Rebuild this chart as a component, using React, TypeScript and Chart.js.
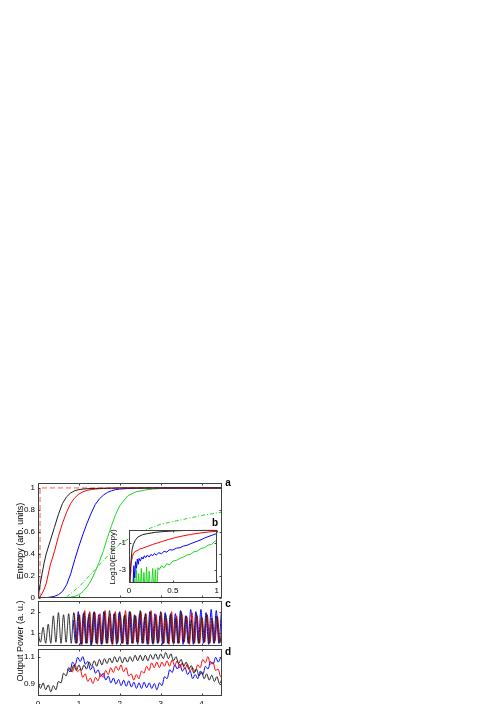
import React, { useEffect, useRef } from "react";
import { Chart, registerables } from "chart.js";
Chart.register(...registerables);

// ---------- Panel a : entropy vs time ----------
const aTime = [0, 0.05, 0.1, 0.15, 0.2, 0.3, 0.4, 0.5, 0.6, 0.7, 0.8, 0.9, 1.0, 1.1, 1.2, 1.3, 1.4, 1.5, 1.6, 1.7, 1.8, 1.9, 2.0, 2.2, 2.4, 2.6, 2.8, 3.0, 3.5, 4.0, 4.5];
const aBlack = [0, 0.12, 0.22, 0.32, 0.4, 0.52, 0.64, 0.76, 0.86, 0.92, 0.955, 0.975, 0.985, 0.99, 0.993, 0.995, 0.996, 0.997, 0.998, 0.998, 0.999, 0.999, 1, 1, 1, 1, 1, 1, 1, 1, 1];
const aRed = [0, 0.01, 0.04, 0.08, 0.13, 0.3, 0.42, 0.56, 0.68, 0.78, 0.86, 0.91, 0.945, 0.965, 0.978, 0.985, 0.99, 0.993, 0.995, 0.996, 0.997, 0.998, 0.999, 1, 1, 1, 1, 1, 1, 1, 1];
const aBlue = [0, 0, 0.001, 0.002, 0.003, 0.008, 0.015, 0.03, 0.06, 0.12, 0.22, 0.35, 0.47, 0.58, 0.68, 0.77, 0.85, 0.9, 0.935, 0.96, 0.975, 0.985, 0.99, 0.995, 0.997, 0.998, 0.999, 1, 1, 1, 1];
const aGreen = [0, 0, 0, 0, 0, 0, 0.001, 0.001, 0.002, 0.003, 0.008, 0.015, 0.03, 0.06, 0.1, 0.16, 0.24, 0.33, 0.43, 0.55, 0.66, 0.76, 0.84, 0.93, 0.965, 0.98, 0.99, 0.995, 0.998, 0.999, 1];
const aDashDotX = [0.7, 0.8, 1.0, 1.2, 1.4, 1.6, 1.8, 2.0, 2.5, 3.0, 3.5, 4.0, 4.5];
const aDashDotY = [0.01, 0.04, 0.1, 0.18, 0.26, 0.34, 0.42, 0.49, 0.6, 0.67, 0.71, 0.75, 0.78];
const aStepX = [0.05, 0.05, 4.5];
const aStepY = [0, 1, 1];
const aYTicks = [0, 0.2, 0.4, 0.6, 0.8, 1];

// ---------- Panel b (inset) : log10 entropy ----------
const bBlackX = [0.005, 0.015, 0.025, 0.035, 0.05, 0.07, 0.1, 0.15, 0.2, 0.3, 0.4, 0.5, 0.6, 0.7, 0.8, 0.9, 1.0];
const bBlackY = [-4.5, -3.2, -2.2, -1.5, -1.1, -0.8, -0.55, -0.38, -0.3, -0.19, -0.13, -0.09, -0.06, -0.045, -0.035, -0.025, -0.02];
const bRedX = [0.01, 0.015, 0.02, 0.03, 0.04, 0.05, 0.065, 0.08, 0.1, 0.12, 0.15, 0.19, 0.23, 0.27, 0.32, 0.38, 0.45, 0.52, 0.6, 0.7, 0.8, 0.9, 1.0];
const bRedY = [-4.5, -3.3, -2.8, -2.3, -2.0, -1.8, -1.65, -1.6, -1.55, -1.45, -1.4, -1.3, -1.2, -1.1, -1.0, -0.87, -0.73, -0.6, -0.48, -0.35, -0.25, -0.17, -0.11];
const bBlueX = [0.045, 0.055, 0.065, 0.075, 0.085, 0.095, 0.105, 0.115, 0.13, 0.145, 0.16, 0.175, 0.19, 0.21, 0.23, 0.25, 0.27, 0.29, 0.31, 0.34, 0.37, 0.4, 0.43, 0.46, 0.5, 0.54, 0.58, 0.62, 0.66, 0.7, 0.74, 0.78, 0.82, 0.86, 0.9, 0.95, 1.0];
const bBlueY = [-4.5, -2.7, -3.6, -2.4, -2.9, -2.2, -2.6, -2.15, -2.35, -2.05, -2.2, -1.95, -2.1, -1.9, -2.05, -1.85, -1.95, -1.78, -1.9, -1.72, -1.8, -1.62, -1.68, -1.5, -1.52, -1.38, -1.35, -1.22, -1.17, -1.05, -0.95, -0.85, -0.75, -0.62, -0.52, -0.4, -0.28];
const bGreenX = [0.04, 0.055, 0.07, 0.084, 0.097, 0.11, 0.125, 0.14, 0.155, 0.17, 0.185, 0.2, 0.215, 0.23, 0.25, 0.27, 0.285, 0.3, 0.315, 0.33, 0.345, 0.37, 0.4, 0.43, 0.46, 0.5, 0.54, 0.58, 0.62, 0.66, 0.7, 0.74, 0.78, 0.82, 0.86, 0.9, 0.94, 0.97, 1.0];
const bGreenY = [-5, -3.1, -5, -3.0, -5, -3.3, -5, -2.9, -5, -3.2, -5, -2.8, -5, -3.1, -5, -2.9, -5, -3.0, -5, -2.85, -3.0, -2.7, -2.85, -2.55, -2.65, -2.35, -2.3, -2.15, -2.05, -1.9, -1.85, -1.65, -1.6, -1.4, -1.35, -1.15, -1.1, -0.9, -0.8];
const bXTicks = [0, 0.5, 1];
const bYTicks = [-3, -1];

// ---------- Panel c : output power (fast oscillation) ----------
const cStep = 0.0625;
const cBlackStart = 0;
const cBlack = [1.0, 0.55, 1.25, 0.5, 1.4, 0.5, 1.8, 0.55, 1.95, 0.5, 1.85, 0.55, 1.9, 0.5, 1.95, 0.5, 1.85, 0.45, 1.95, 0.5, 1.9, 0.45, 2.0, 0.5, 1.7, 0.45, 1.95, 0.5, 2.05, 0.45, 1.9, 0.5, 2.0, 0.5, 1.85, 0.45, 2.0, 0.5, 1.8, 0.45, 2.05, 0.5, 1.9, 0.5, 1.95, 0.45, 1.75, 0.5, 2.0, 0.5, 1.85, 0.5, 1.9, 0.45, 1.7, 0.5, 2.0, 0.55, 1.8, 0.5, 1.6, 0.5, 1.9, 0.5, 1.75, 0.55, 1.85, 0.5, 1.7, 0.5, 1.8, 0.5, 1.1];
const cRedStart = 0.89;
const cRed = [1.9, 0.5, 1.85, 0.45, 2.05, 0.5, 2.0, 0.55, 1.95, 0.45, 1.9, 0.5, 2.05, 0.5, 1.9, 0.45, 2.0, 0.55, 1.85, 0.5, 2.05, 0.45, 1.95, 0.5, 1.8, 0.55, 2.0, 0.5, 1.9, 0.45, 2.05, 0.5, 1.85, 0.55, 1.95, 0.5, 1.7, 0.45, 2.0, 0.5, 1.8, 0.5, 1.9, 0.55, 1.75, 0.45, 1.95, 0.5, 1.8, 0.5, 1.7, 0.55, 1.85, 0.5, 1.6, 0.6, 1.75, 0.55, 1.4];
const cBlueStart = 0.86;
const cBlue = [1.6, 0.5, 2.0, 0.45, 1.9, 0.5, 1.75, 0.4, 1.95, 0.5, 1.85, 0.45, 2.0, 0.5, 1.7, 0.55, 1.9, 0.45, 1.95, 0.5, 1.8, 0.45, 2.0, 0.5, 1.85, 0.55, 1.9, 0.5, 1.75, 0.45, 2.0, 0.5, 1.9, 0.5, 1.8, 0.45, 1.95, 0.5, 1.85, 0.55, 1.9, 0.5, 2.05, 0.45, 1.8, 0.5, 2.1, 0.45, 2.0, 0.5, 2.1, 0.5, 1.95, 0.45, 2.1, 0.5, 2.05, 0.5, 2.0];
const cYTicks = [1, 2];

// ---------- Panel d : output power (slow drift) ----------
const dBlackStart = 0;
const dBlack = [0.92, 0.87, 0.91, 0.86, 0.895, 0.845, 0.89, 0.86, 0.92, 0.91, 0.98, 0.96, 1.02, 0.99, 1.04, 1.0, 1.04, 1.0, 1.04, 1.01, 1.06, 1.03, 1.07, 1.03, 1.08, 1.04, 1.085, 1.05, 1.09, 1.055, 1.1, 1.06, 1.1, 1.055, 1.095, 1.06, 1.1, 1.065, 1.11, 1.07, 1.11, 1.07, 1.11, 1.07, 1.115, 1.08, 1.12, 1.08, 1.12, 1.085, 1.13, 1.085, 1.12, 1.07, 1.1, 1.05, 1.08, 1.03, 1.06, 1.01, 1.035, 0.98, 1.01, 0.96, 0.99, 0.94, 0.975, 0.93, 0.965, 0.92, 0.955, 0.905, 0.94];
const dRedStart = 0.78;
const dRed = [1.02, 0.99, 1.04, 0.99, 1.01, 0.95, 0.975, 0.92, 0.945, 0.905, 0.95, 0.925, 0.975, 0.95, 1.0, 0.97, 1.02, 0.985, 1.03, 1.0, 1.04, 0.99, 1.02, 0.96, 0.975, 0.93, 0.97, 0.94, 0.995, 0.98, 1.03, 1.0, 1.055, 1.02, 1.06, 1.02, 1.06, 1.03, 1.07, 1.03, 1.075, 1.035, 1.07, 1.02, 1.055, 1.01, 1.045, 0.995, 1.02, 0.99, 1.04, 1.02, 1.08, 1.055, 1.1, 1.045, 1.06, 1.0, 1.01, 0.955, 0.99];
const dBlueStart = 0.72;
const dBlue = [1.01, 0.99, 1.06, 1.04, 1.095, 1.065, 1.1, 1.045, 1.065, 1.005, 1.03, 0.98, 1.005, 0.955, 0.98, 0.93, 0.96, 0.91, 0.945, 0.9, 0.935, 0.89, 0.93, 0.885, 0.925, 0.88, 0.915, 0.87, 0.91, 0.87, 0.915, 0.875, 0.91, 0.87, 0.905, 0.86, 0.91, 0.89, 0.955, 0.94, 1.005, 0.985, 1.04, 1.01, 1.045, 0.995, 1.02, 0.97, 0.995, 0.94, 0.97, 0.94, 0.995, 0.97, 1.03, 1.01, 1.065, 1.045, 1.095, 1.06, 1.09, 1.04];
const dYTicks = [0.9, 1.1];

const timeTicks = [0, 1, 2, 3, 4];

// ---------- helpers ----------
type XY = { x: number; y: number };
const pairs = (xs: number[], ys: number[]): XY[] => xs.map((x, i) => ({ x, y: ys[i] }));
const sampled = (x0: number, dx: number, ys: number[]): XY[] => ys.map((y, i) => ({ x: x0 + i * dx, y }));

const FONT = '"Liberation Sans", Arial, Helvetica, sans-serif';
const BLACK = "rgb(30,30,30)";
const RED = "rgb(255,0,0)";
const BLUE = "rgb(0,0,255)";
const GREEN = "rgb(30,215,30)";

function line(data: XY[], color: string, extra: any = {}) {
  return { data, borderColor: color, borderWidth: 1, pointRadius: 0, fill: false, tension: 0, ...extra };
}

function framePlugin(xt: number[], yt: number[], len = 2) {
  return {
    id: "frameTicks",
    afterDatasetsDraw(chart: any) {
      const { ctx, chartArea: a, scales } = chart;
      const L = Math.round(a.left) + 0.5;
      const R = Math.round(a.right) - 0.5;
      const T = Math.round(a.top) + 0.5;
      const B = Math.round(a.bottom) - 0.5;
      ctx.save();
      ctx.strokeStyle = "#404040";
      ctx.lineWidth = 1;
      ctx.strokeRect(L, T, R - L, B - T);
      ctx.beginPath();
      xt.forEach((v) => {
        const x = Math.round(scales.x.getPixelForValue(v)) + 0.5;
        ctx.moveTo(x, B); ctx.lineTo(x, B - len);
        ctx.moveTo(x, T); ctx.lineTo(x, T + len);
      });
      yt.forEach((v) => {
        const y = Math.round(scales.y.getPixelForValue(v)) + 0.5;
        ctx.moveTo(L, y); ctx.lineTo(L + len, y);
        ctx.moveTo(R, y); ctx.lineTo(R - len, y);
      });
      ctx.stroke();
      ctx.restore();
    },
  };
}

const whiteArea = {
  id: "whiteArea",
  beforeDraw(chart: any) {
    const { ctx, chartArea: a } = chart;
    ctx.save();
    ctx.fillStyle = "#ffffff";
    ctx.fillRect(a.left, a.top, a.right - a.left, a.bottom - a.top);
    ctx.restore();
  },
};

function makeConfig(p: {
  datasets: any[];
  xMin: number; xMax: number; yMin: number; yMax: number;
  xTicks: number[]; yTicks: number[];
  yWidth: number; pad: { top: number; right: number; bottom: number };
  showX: boolean; xHeight?: number;
  extraPlugins?: any[];
}): any {
  const tickFont = { family: FONT, size: 8 };
  return {
    type: "line",
    data: { datasets: p.datasets },
    options: {
      responsive: false,
      animation: false,
      events: [],
      layout: { padding: { left: 0, top: p.pad.top, right: p.pad.right, bottom: p.pad.bottom } },
      plugins: { legend: { display: false }, tooltip: { enabled: false }, title: { display: false } },
      scales: {
        x: {
          type: "linear",
          min: p.xMin,
          max: p.xMax,
          display: p.showX,
          grid: { display: false, drawTicks: false },
          border: { display: false },
          ticks: { font: tickFont, color: "#000", padding: 3, autoSkip: false, maxRotation: 0, callback: (v: number) => String(v) },
          afterBuildTicks: (s: any) => { s.ticks = p.xTicks.map((v) => ({ value: v })); },
          afterFit: (s: any) => { if (p.showX) s.height = p.xHeight ?? 12; },
        },
        y: {
          type: "linear",
          min: p.yMin,
          max: p.yMax,
          grid: { display: false, drawTicks: false },
          border: { display: false },
          ticks: { font: tickFont, color: "#000", padding: 3, autoSkip: false, callback: (v: number) => String(v) },
          afterBuildTicks: (s: any) => { s.ticks = p.yTicks.map((v) => ({ value: v })); },
          afterFit: (s: any) => { s.width = p.yWidth; },
        },
      },
    },
    plugins: [...(p.extraPlugins ?? []), framePlugin(p.xTicks, p.yTicks)],
  };
}

const txt: React.CSSProperties = {
  position: "absolute",
  fontFamily: FONT,
  color: "#000",
  whiteSpace: "nowrap",
  lineHeight: 1,
  transform: "translate(-50%, -50%)",
};

// rotated label: fixed even-sized box centred on (cx, cy)
function VLabel(props: { cx: number; cy: number; size: number; text: string }) {
  const W = 120, H = 10;
  return (
    <div
      style={{
        position: "absolute",
        left: props.cx - W / 2,
        top: props.cy - H / 2,
        width: W,
        height: H,
        lineHeight: H + "px",
        textAlign: "center",
        fontFamily: FONT,
        fontSize: props.size,
        color: "#000",
        whiteSpace: "nowrap",
        transform: "rotate(-90deg)",
        transformOrigin: "50% 50%",
      }}
    >
      {props.text}
    </div>
  );
}

export default function App() {
  const aRef = useRef<HTMLCanvasElement>(null);
  const bRef = useRef<HTMLCanvasElement>(null);
  const cRef = useRef<HTMLCanvasElement>(null);
  const dRef = useRef<HTMLCanvasElement>(null);

  useEffect(() => {
    const charts: Chart[] = [];
    charts.push(new Chart(aRef.current!, makeConfig({
      datasets: [
        line(pairs(aTime, aBlack), BLACK),
        line(pairs(aTime, aRed), RED),
        line(pairs(aTime, aBlue), BLUE),
        line(pairs(aTime, aGreen), GREEN),
        line(pairs(aDashDotX, aDashDotY), GREEN, { borderDash: [4, 2, 1, 2] }),
        line(pairs(aStepX, aStepY), "rgb(255,90,90)", { borderDash: [5, 3] }),
      ],
      xMin: 0, xMax: 4.5, yMin: 0, yMax: 1.045,
      xTicks: timeTicks, yTicks: aYTicks,
      yWidth: 38, pad: { top: 8, right: 18, bottom: 8 }, showX: false,
    })));
    charts.push(new Chart(bRef.current!, makeConfig({
      datasets: [
        line(pairs(bBlackX, bBlackY), BLACK),
        line(pairs(bRedX, bRedY), RED),
        line(pairs(bBlueX, bBlueY), BLUE),
        line(pairs(bGreenX, bGreenY), GREEN),
      ],
      xMin: 0, xMax: 1, yMin: -4, yMax: 0,
      xTicks: bXTicks, yTicks: bYTicks,
      yWidth: 29, pad: { top: 4, right: 3, bottom: 0 }, showX: true, xHeight: 12,
      extraPlugins: [whiteArea],
    })));
    charts.push(new Chart(cRef.current!, makeConfig({
      datasets: [
        line(sampled(cBlackStart, cStep, cBlack), "rgba(30,30,30,0.9)", { cubicInterpolationMode: "monotone" }),
        line(sampled(cRedStart, cStep, cRed), RED, { cubicInterpolationMode: "monotone" }),
        line(sampled(cBlueStart, cStep, cBlue), BLUE, { cubicInterpolationMode: "monotone" }),
      ],
      xMin: 0, xMax: 4.5, yMin: 0.37, yMax: 2.5,
      xTicks: timeTicks, yTicks: cYTicks,
      yWidth: 38, pad: { top: 8, right: 18, bottom: 8 }, showX: false,
    })));
    charts.push(new Chart(dRef.current!, makeConfig({
      datasets: [
        line(sampled(dBlackStart, cStep, dBlack), BLACK, { cubicInterpolationMode: "monotone" }),
        line(sampled(dRedStart, cStep, dRed), RED, { cubicInterpolationMode: "monotone" }),
        line(sampled(dBlueStart, cStep, dBlue), BLUE, { cubicInterpolationMode: "monotone" }),
      ],
      xMin: 0, xMax: 4.5, yMin: 0.815, yMax: 1.155,
      xTicks: timeTicks, yTicks: dYTicks,
      yWidth: 38, pad: { top: 8, right: 18, bottom: 0 }, showX: true, xHeight: 12,
    })));
    return () => charts.forEach((c) => c.destroy());
  }, []);

  return (
    <div style={{ position: "absolute", left: 0, top: 0, width: 498, height: 704, overflow: "hidden", background: "#fff" }}>
      <canvas ref={aRef} width={240} height={131} style={{ position: "absolute", left: 0, top: 475, width: 240, height: 131 }} />
      <canvas ref={cRef} width={240} height={61} style={{ position: "absolute", left: 0, top: 593, width: 240, height: 61 }} />
      <canvas ref={dRef} width={240} height={67} style={{ position: "absolute", left: 0, top: 641, width: 240, height: 67 }} />
      <canvas ref={bRef} width={122} height={73} style={{ position: "absolute", left: 100, top: 522, width: 122, height: 73 }} />
      <VLabel cx={20} cy={541} size={9} text="Entropy (arb. units)" />
      <VLabel cx={20} cy={641} size={9} text="Output Power (a. u.)" />
      <VLabel cx={113} cy={557} size={8} text="Log10(Entropy)" />
      <div style={{ ...txt, left: 228, top: 483, fontSize: 10, fontWeight: "bold" }}>a</div>
      <div style={{ ...txt, left: 215, top: 522.5, fontSize: 10, fontWeight: "bold" }}>b</div>
      <div style={{ ...txt, left: 228, top: 604, fontSize: 10, fontWeight: "bold" }}>c</div>
      <div style={{ ...txt, left: 228, top: 652, fontSize: 10, fontWeight: "bold" }}>d</div>
    </div>
  );
}
